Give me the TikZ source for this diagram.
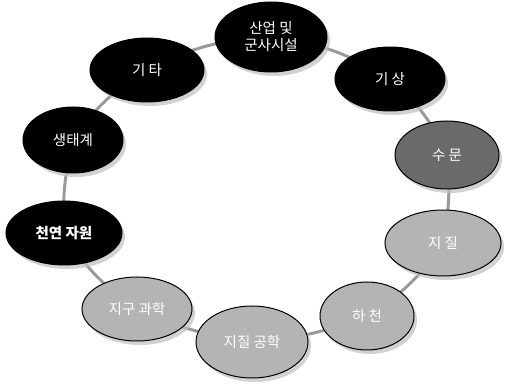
\documentclass[tikz,border=0pt]{standalone}
\usepackage{fontspec}
\setmainfont{Noto Sans CJK KR}
\usetikzlibrary{shapes.geometric,shadows}
\definecolor{linkgray}{HTML}{9A9A9A}
\definecolor{midgray}{HTML}{6A6A6A}
\definecolor{lightgray}{HTML}{B4B4B4}
\tikzset{
  ell/.style={ellipse, draw=black, line width=1pt, inner sep=0pt, text=white,
    font=\fontsize{14.5}{17}\selectfont, align=center,
    drop shadow={shadow xshift=3pt, shadow yshift=-4pt, fill=black!25, opacity=0.7}},
  darkell/.style={ell, fill=black},
  midell/.style={ell, fill=midgray},
  lightell/.style={ell, fill=lightgray},
  link/.style={draw=linkgray, line width=3pt}
}
\begin{document}
\begin{tikzpicture}[x=1pt,y=-1pt]
\useasboundingbox (0,0) rectangle (507,385);
% connectors first
\coordinate (cA) at (271,37);
\coordinate (cB) at (390,79);
\coordinate (cC) at (447,155);
\coordinate (cD) at (443,243);
\coordinate (cE) at (367,316);
\coordinate (cF) at (252,342);
\coordinate (cG) at (137,309);
\coordinate (cH) at (64,233);
\coordinate (cI) at (73,140);
\coordinate (cJ) at (147,70);
\draw[link] (cA) to[bend left=12] (cB);
\draw[link] (cB) to[bend left=12] (cC);
\draw[link] (cC) to[bend left=8] (cD);
\draw[link] (cD) to[bend left=12] (cE);
\draw[link] (cE) to[bend left=8] (cF);
\draw[link] (cF) to[bend left=8] (cG);
\draw[link] (cG) to[bend left=12] (cH);
\draw[link] (cH) to[bend left=8] (cI);
\draw[link] (cI) to[bend left=12] (cJ);
\draw[link] (cJ) to[bend left=12] (cA);
% nodes
\node[darkell, minimum width=112pt, minimum height=70pt] (ind) at (cA) {산업 및\\군사시설};
\node[darkell, minimum width=110pt, minimum height=64pt] (wea) at (cB) {기 상};
\node[midell, minimum width=104pt, minimum height=68pt] (hyd) at (cC) {수 문};
\node[lightell, minimum width=116pt, minimum height=66pt] (geo) at (cD) {지 질};
\node[lightell, minimum width=94pt, minimum height=68pt] (riv) at (cE) {하 천};
\node[lightell, minimum width=112pt, minimum height=72pt] (eng) at (cF) {지질 공학};
\node[lightell, minimum width=110pt, minimum height=64pt] (ear) at (cG) {지구 과학};
\node[darkell, minimum width=116pt, minimum height=64pt, font=\fontsize{14.5}{17}\selectfont\bfseries] (nat) at (cH) {천연 자원};
\node[darkell, minimum width=100pt, minimum height=66pt] (eco) at (cI) {생태계};
\node[darkell, minimum width=114pt, minimum height=64pt] (etc) at (cJ) {기 타};
\end{tikzpicture}
\end{document}
